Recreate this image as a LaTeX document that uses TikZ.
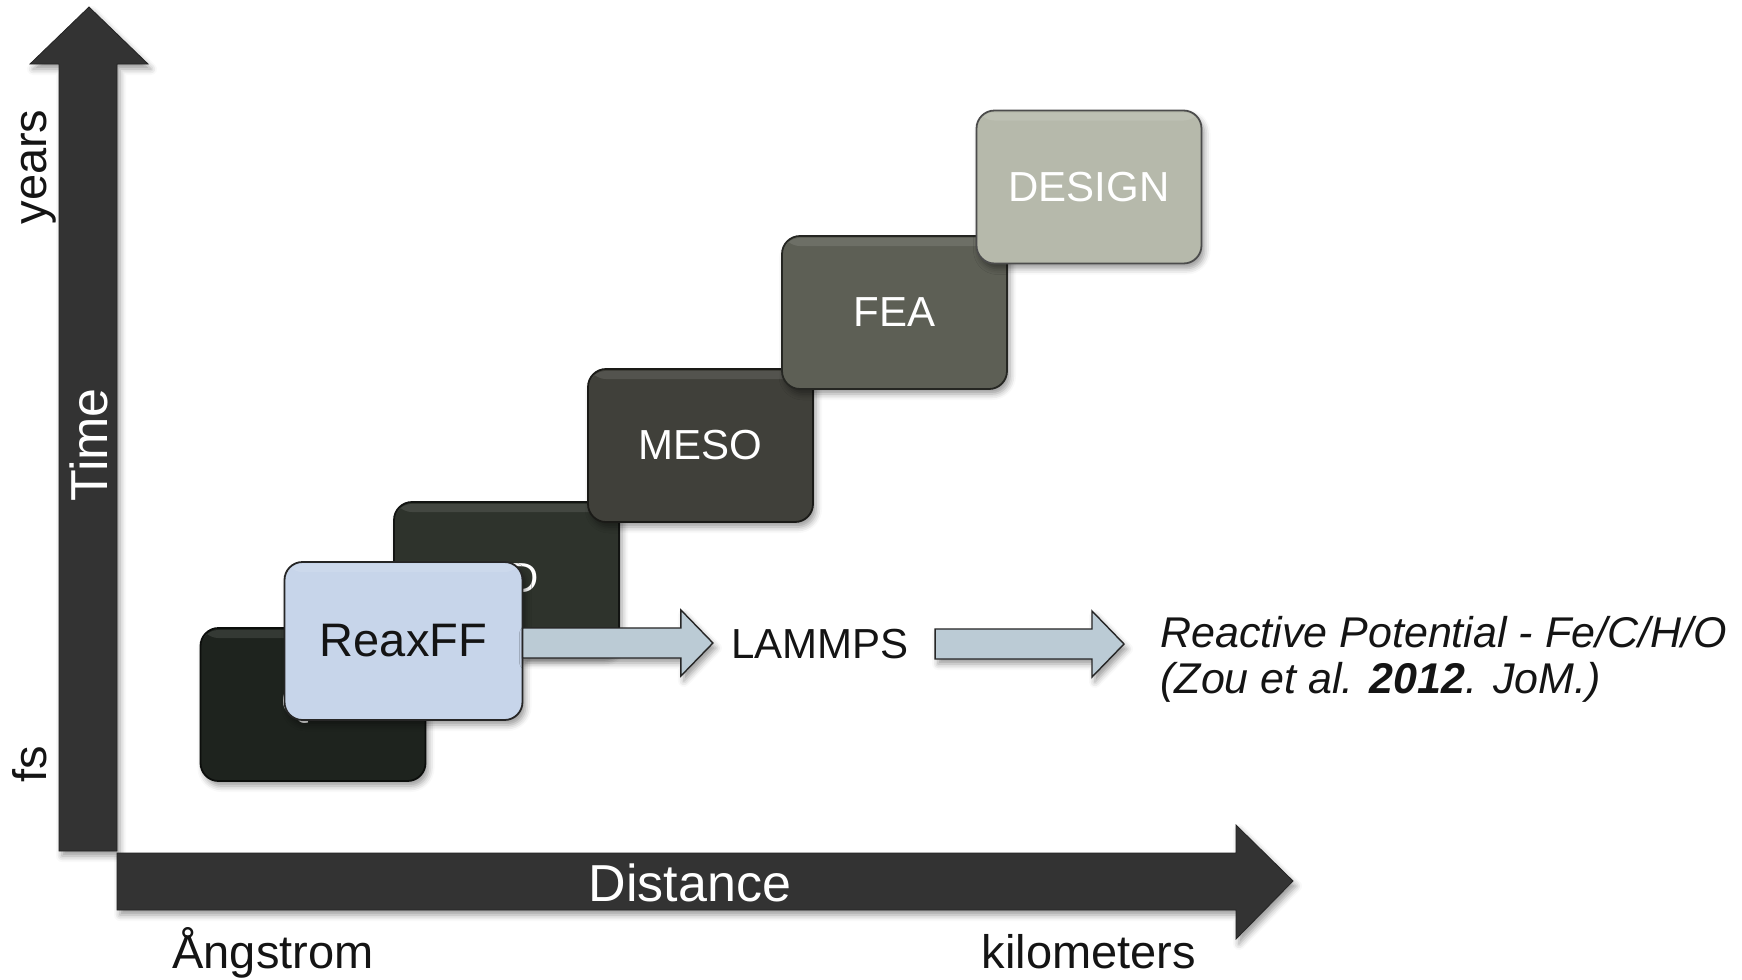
\documentclass[tikz,border=0pt]{standalone}
\usepackage{fontspec}
\setmainfont{Liberation Sans}
\usetikzlibrary{shadows.blur,calc}
\definecolor{axisgray}{RGB}{51,51,51}
\definecolor{qccol}{RGB}{30,35,30}
\definecolor{mdcol}{RGB}{46,51,44}
\definecolor{mesocol}{RGB}{64,64,58}
\definecolor{feacol}{RGB}{93,95,85}
\definecolor{designcol}{RGB}{182,185,171}
\definecolor{reaxcol}{RGB}{199,213,234}
\definecolor{arrowcol}{RGB}{187,203,213}
\definecolor{textdark}{RGB}{20,20,20}
\begin{document}
\begin{tikzpicture}[x=0.5pt,y=-0.5pt,
  softshadow/.style={blur shadow={shadow xshift=1.5pt, shadow yshift=-2.5pt, shadow blur radius=3pt, shadow opacity=40}},
  stagebox/.style={rectangle, rounded corners=9pt, minimum width=112.5pt, minimum height=76.5pt,
    inner sep=0pt, fill=#1, draw=#1!40!black, line width=0.9pt, softshadow,
    font=\fontsize{21pt}{24pt}\selectfont, text=white,
    path picture={\fill[white, opacity=0.10] ([yshift=-1pt]path picture bounding box.north west) rectangle ([yshift=-5pt]path picture bounding box.north east);}},
  axisshape/.style={fill=axisgray, draw=axisgray!70!black, line width=0.4pt, softshadow},
  axislabel/.style={inner sep=0pt, text=textdark, font=\fontsize{23.5pt}{26pt}\selectfont},
  axisinner/.style={inner sep=0pt, text=white, font=\fontsize{26pt}{28pt}\selectfont},
  plainlabel/.style={inner sep=0pt, text=textdark, font=\fontsize{21pt}{24pt}\selectfont},
  blockarrow/.style={fill=arrowcol, draw=black!85, line width=0.7pt, line join=miter, softshadow,
    to path={let \p1=(\tikztostart), \p2=(\tikztotarget) in
      (\x1,\y1+7.5pt) -- (\x2-16pt,\y1+7.5pt) -- (\x2-16pt,\y1+16.5pt) -- (\x2,\y1)
      -- (\x2-16pt,\y1-16.5pt) -- (\x2-16pt,\y1-7.5pt) -- (\x1,\y1-7.5pt) -- cycle}}
]
\useasboundingbox (0,0) rectangle (1742,980);

% axes
\path[axisshape] (59,851) -- (59,64) -- (30,64) -- (89,7) -- (148,64) -- (117,64) -- (117,851) -- cycle;
\path[axisshape] (117,853) -- (1236,853) -- (1236,825) -- (1293,881) -- (1236,939) -- (1236,910) -- (117,910) -- cycle;

% stage boxes
\node[stagebox=qccol] (qc) at (313,704.5) {QC};
\node[stagebox=mdcol] (md) at (506.5,578.5) {MD};
\node[stagebox=mesocol] (meso) at (700.5,445.5) {MESO};
\node[stagebox=feacol] (fea) at (894.5,312.5) {FEA};
\node[stagebox=designcol, draw=black!70] (design) at (1089,187) {DESIGN};

% axis labels
\node[axislabel, rotate=90] (years) at (39,167) {years};
\node[axislabel, rotate=90] (fs) at (30,764) {fs};
\node[axisinner, rotate=90] (time) at (89,445) {Time};
\node[axisinner] (dist) at (690,883) {Distance};
\node[axislabel, anchor=base] (ang) at (273,968) {Ångstrom};
\node[axislabel, anchor=base] (km) at (1089,968) {kilometers};

% ReaxFF box and the chain
\node[stagebox=reaxcol, draw=black!85, minimum width=119pt, minimum height=79pt,
      text=textdark, font=\fontsize{23.5pt}{26pt}\selectfont] (reax) at (403.5,641) {ReaxFF};
\node[plainlabel] (lammps) at (820,644) {LAMMPS};
\node[anchor=base west, align=left, inner sep=0pt, text=textdark,
      font=\fontsize{21.5pt}{23pt}\selectfont\itshape] (ref) at (1160,693)
      {Reactive Potential - Fe/C/H/O\\(Zou et al. \textbf{2012}. JoM.)};

\draw[blockarrow] ([xshift=-0.4pt,yshift=-1pt]reax.east) to ([xshift=-9pt]lammps.west);
\draw[blockarrow] ([xshift=13pt]lammps.east) to ([xshift=-18pt]ref.west);
\end{tikzpicture}
\end{document}
